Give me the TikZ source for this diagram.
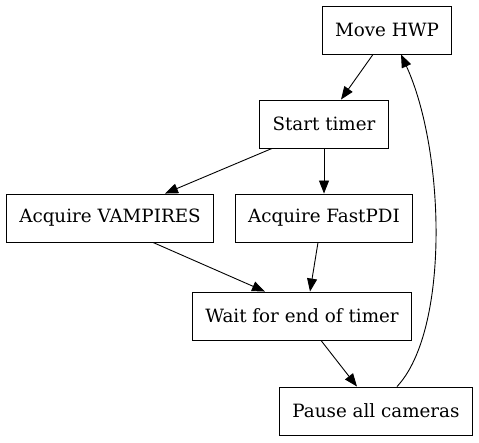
\documentclass[tikz,border=0pt]{standalone}
\usepackage{fontspec}
\setmainfont{DejaVu Serif}
\usetikzlibrary{arrows.meta,positioning}
\tikzset{
  stepbox/.style={draw,line width=0.9pt,inner xsep=13pt,minimum height=48pt,font=\fontsize{18.3}{21}\selectfont},
  flow/.style={-{Triangle[length=13pt,width=10pt]},line width=0.9pt}
}
\begin{document}
\begin{tikzpicture}[x=1pt,y=-1pt]
\useasboundingbox (0,0) rectangle (479,443);
\node[stepbox] (move) at (387,30) {Move HWP};
\node[stepbox] (timer) at (324,124) {Start timer};
\node[stepbox] (vamp) at (110,218) {Acquire VAMPIRES};
\node[stepbox] (fpdi) at (324,218) {Acquire FastPDI};
\node[stepbox] (wait) at (302,316) {Wait for end of timer};
\node[stepbox] (pause) at (376,411) {Pause all cameras};
% edges
\draw[flow] (move.south -| 373,0) -- (timer.north -| 341,0);
\draw[flow] (timer.south -| 272,0) -- (vamp.north -| 165,0);
\draw[flow] (timer) -- (fpdi);
\draw[flow] (vamp.south -| 153,0) -- (wait.north -| 265,0);
\draw[flow] (fpdi.south -| 318,0) -- (wait.north -| 310,0);
\draw[flow] (wait.south -| 321,0) -- (pause.north -| 357,0);
\draw[flow] (pause.north -| 397,0) .. controls (450,330) and (445,150) .. (move.south -| 401,0);
\end{tikzpicture}
\end{document}
